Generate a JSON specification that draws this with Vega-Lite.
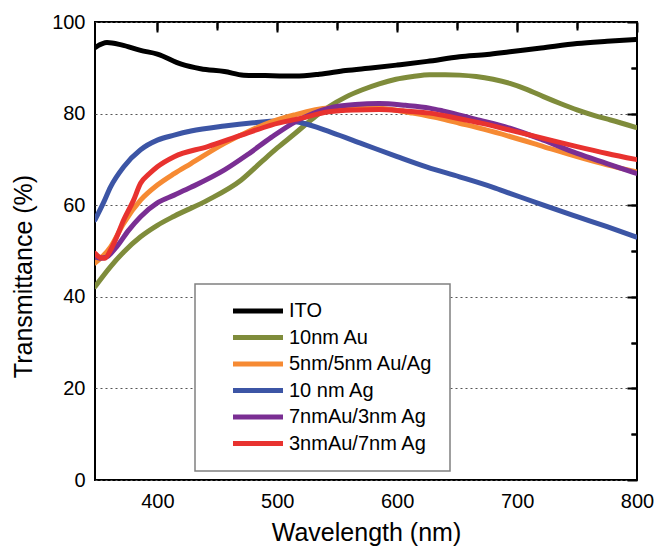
{
  "$schema": "https://vega.github.io/schema/vega-lite/v6.json",
  "width": 542,
  "height": 458,
  "autosize": {"type": "none"},
  "padding": {"left": 95, "top": 22, "right": 18, "bottom": 70},
  "background": "white",
  "config": {
    "view": {"stroke": "black", "strokeWidth": 2},
    "font": "Liberation Sans",
    "axis": {"domain": false, "labelFlush": false, "labelColor": "black", "titleColor": "black", "titleFontWeight": "normal", "tickColor": "black", "tickWidth": 2, "labelFont": "Liberation Sans", "titleFont": "Liberation Sans"}
  },
  "data": {"values": [
    {"s":"ITO","x":348,"y":94.4},{"s":"ITO","x":358,"y":95.5},{"s":"ITO","x":370,"y":95.0},{"s":"ITO","x":386,"y":93.8},{"s":"ITO","x":400,"y":93.0},{"s":"ITO","x":420,"y":90.8},{"s":"ITO","x":436,"y":89.8},{"s":"ITO","x":456,"y":89.2},{"s":"ITO","x":472,"y":88.4},{"s":"ITO","x":490,"y":88.3},{"s":"ITO","x":515,"y":88.2},{"s":"ITO","x":535,"y":88.6},{"s":"ITO","x":557,"y":89.4},{"s":"ITO","x":580,"y":90.0},{"s":"ITO","x":600,"y":90.6},{"s":"ITO","x":625,"y":91.4},{"s":"ITO","x":652,"y":92.4},{"s":"ITO","x":675,"y":92.9},{"s":"ITO","x":694,"y":93.5},{"s":"ITO","x":720,"y":94.3},{"s":"ITO","x":750,"y":95.3},{"s":"ITO","x":775,"y":95.8},{"s":"ITO","x":799,"y":96.2},
    {"s":"10nm Au","x":348,"y":42.2},{"s":"10nm Au","x":361,"y":46.6},{"s":"10nm Au","x":372,"y":49.8},{"s":"10nm Au","x":386,"y":53.1},{"s":"10nm Au","x":400,"y":55.6},{"s":"10nm Au","x":414,"y":57.6},{"s":"10nm Au","x":442,"y":61.1},{"s":"10nm Au","x":470,"y":65.5},{"s":"10nm Au","x":487,"y":69.5},{"s":"10nm Au","x":500,"y":72.5},{"s":"10nm Au","x":515,"y":75.7},{"s":"10nm Au","x":530,"y":79.0},{"s":"10nm Au","x":543,"y":81.5},{"s":"10nm Au","x":557,"y":83.6},{"s":"10nm Au","x":571,"y":85.2},{"s":"10nm Au","x":585,"y":86.5},{"s":"10nm Au","x":599,"y":87.5},{"s":"10nm Au","x":613,"y":88.1},{"s":"10nm Au","x":627,"y":88.5},{"s":"10nm Au","x":640,"y":88.5},{"s":"10nm Au","x":652,"y":88.4},{"s":"10nm Au","x":666,"y":88.1},{"s":"10nm Au","x":680,"y":87.5},{"s":"10nm Au","x":694,"y":86.6},{"s":"10nm Au","x":708,"y":85.3},{"s":"10nm Au","x":722,"y":83.7},{"s":"10nm Au","x":736,"y":82.2},{"s":"10nm Au","x":750,"y":80.8},{"s":"10nm Au","x":764,"y":79.6},{"s":"10nm Au","x":778,"y":78.6},{"s":"10nm Au","x":799,"y":77.0},
    {"s":"10 nm Ag","x":348,"y":56.8},{"s":"10 nm Ag","x":355,"y":60.5},{"s":"10 nm Ag","x":361,"y":64.0},{"s":"10 nm Ag","x":372,"y":68.4},{"s":"10 nm Ag","x":386,"y":72.1},{"s":"10 nm Ag","x":400,"y":74.2},{"s":"10 nm Ag","x":414,"y":75.3},{"s":"10 nm Ag","x":428,"y":76.2},{"s":"10 nm Ag","x":456,"y":77.3},{"s":"10 nm Ag","x":480,"y":78.0},{"s":"10 nm Ag","x":500,"y":78.4},{"s":"10 nm Ag","x":510,"y":78.4},{"s":"10 nm Ag","x":520,"y":78.0},{"s":"10 nm Ag","x":545,"y":75.9},{"s":"10 nm Ag","x":571,"y":73.4},{"s":"10 nm Ag","x":600,"y":70.6},{"s":"10 nm Ag","x":625,"y":68.3},{"s":"10 nm Ag","x":652,"y":66.2},{"s":"10 nm Ag","x":680,"y":63.9},{"s":"10 nm Ag","x":694,"y":62.6},{"s":"10 nm Ag","x":722,"y":60.0},{"s":"10 nm Ag","x":750,"y":57.5},{"s":"10 nm Ag","x":775,"y":55.3},{"s":"10 nm Ag","x":799,"y":53.1},
    {"s":"5nm/5nm Au/Ag","x":348,"y":47.4},{"s":"5nm/5nm Au/Ag","x":355,"y":49.0},{"s":"5nm/5nm Au/Ag","x":361,"y":50.9},{"s":"5nm/5nm Au/Ag","x":372,"y":56.1},{"s":"5nm/5nm Au/Ag","x":386,"y":61.1},{"s":"5nm/5nm Au/Ag","x":400,"y":64.4},{"s":"5nm/5nm Au/Ag","x":414,"y":66.9},{"s":"5nm/5nm Au/Ag","x":428,"y":69.1},{"s":"5nm/5nm Au/Ag","x":456,"y":73.5},{"s":"5nm/5nm Au/Ag","x":475,"y":76.0},{"s":"5nm/5nm Au/Ag","x":495,"y":78.2},{"s":"5nm/5nm Au/Ag","x":514,"y":79.7},{"s":"5nm/5nm Au/Ag","x":543,"y":81.2},{"s":"5nm/5nm Au/Ag","x":571,"y":81.4},{"s":"5nm/5nm Au/Ag","x":592,"y":81.0},{"s":"5nm/5nm Au/Ag","x":613,"y":80.1},{"s":"5nm/5nm Au/Ag","x":638,"y":78.8},{"s":"5nm/5nm Au/Ag","x":652,"y":77.9},{"s":"5nm/5nm Au/Ag","x":672,"y":76.6},{"s":"5nm/5nm Au/Ag","x":694,"y":75.0},{"s":"5nm/5nm Au/Ag","x":722,"y":72.8},{"s":"5nm/5nm Au/Ag","x":750,"y":70.6},{"s":"5nm/5nm Au/Ag","x":775,"y":68.8},{"s":"5nm/5nm Au/Ag","x":799,"y":67.3},
    {"s":"7nmAu/3nm Ag","x":348,"y":48.8},{"s":"7nmAu/3nm Ag","x":352,"y":48.4},{"s":"7nmAu/3nm Ag","x":357,"y":48.6},{"s":"7nmAu/3nm Ag","x":366,"y":50.9},{"s":"7nmAu/3nm Ag","x":376,"y":54.5},{"s":"7nmAu/3nm Ag","x":386,"y":57.5},{"s":"7nmAu/3nm Ag","x":400,"y":60.5},{"s":"7nmAu/3nm Ag","x":414,"y":62.2},{"s":"7nmAu/3nm Ag","x":428,"y":63.9},{"s":"7nmAu/3nm Ag","x":456,"y":67.7},{"s":"7nmAu/3nm Ag","x":475,"y":71.0},{"s":"7nmAu/3nm Ag","x":495,"y":74.8},{"s":"7nmAu/3nm Ag","x":515,"y":78.2},{"s":"7nmAu/3nm Ag","x":543,"y":81.2},{"s":"7nmAu/3nm Ag","x":565,"y":82.0},{"s":"7nmAu/3nm Ag","x":585,"y":82.2},{"s":"7nmAu/3nm Ag","x":607,"y":81.8},{"s":"7nmAu/3nm Ag","x":627,"y":81.2},{"s":"7nmAu/3nm Ag","x":638,"y":80.6},{"s":"7nmAu/3nm Ag","x":665,"y":78.8},{"s":"7nmAu/3nm Ag","x":694,"y":76.8},{"s":"7nmAu/3nm Ag","x":722,"y":74.2},{"s":"7nmAu/3nm Ag","x":750,"y":71.3},{"s":"7nmAu/3nm Ag","x":775,"y":69.1},{"s":"7nmAu/3nm Ag","x":799,"y":67.0},
    {"s":"3nmAu/7nm Ag","x":348,"y":49.5},{"s":"3nmAu/7nm Ag","x":352,"y":48.6},{"s":"3nmAu/7nm Ag","x":356,"y":48.4},{"s":"3nmAu/7nm Ag","x":361,"y":50.2},{"s":"3nmAu/7nm Ag","x":366,"y":53.0},{"s":"3nmAu/7nm Ag","x":372,"y":56.8},{"s":"3nmAu/7nm Ag","x":380,"y":61.0},{"s":"3nmAu/7nm Ag","x":386,"y":64.8},{"s":"3nmAu/7nm Ag","x":393,"y":66.8},{"s":"3nmAu/7nm Ag","x":400,"y":68.4},{"s":"3nmAu/7nm Ag","x":414,"y":70.6},{"s":"3nmAu/7nm Ag","x":442,"y":72.8},{"s":"3nmAu/7nm Ag","x":470,"y":75.3},{"s":"3nmAu/7nm Ag","x":495,"y":77.5},{"s":"3nmAu/7nm Ag","x":520,"y":79.0},{"s":"3nmAu/7nm Ag","x":543,"y":80.4},{"s":"3nmAu/7nm Ag","x":565,"y":80.8},{"s":"3nmAu/7nm Ag","x":585,"y":80.9},{"s":"3nmAu/7nm Ag","x":605,"y":80.6},{"s":"3nmAu/7nm Ag","x":627,"y":80.1},{"s":"3nmAu/7nm Ag","x":650,"y":79.0},{"s":"3nmAu/7nm Ag","x":672,"y":77.8},{"s":"3nmAu/7nm Ag","x":694,"y":76.4},{"s":"3nmAu/7nm Ag","x":722,"y":74.6},{"s":"3nmAu/7nm Ag","x":750,"y":72.8},{"s":"3nmAu/7nm Ag","x":775,"y":71.3},{"s":"3nmAu/7nm Ag","x":799,"y":70.0}
  ]},
  "layer": [
    {
      "mark": {"type": "line", "interpolate": "monotone", "strokeWidth": 5, "strokeCap": "round", "clip": true},
      "encoding": {
        "x": {"field": "x", "type": "quantitative", "scale": {"domain": [348, 800], "nice": false, "zero": false},
          "axis": {"values": [400, 500, 600, 700, 800], "ticks": false, "labelPadding": 11, "labelFontSize": 20, "labelFlush": false, "grid": false,
            "title": "Wavelength (nm)", "titleFontSize": 25, "titleX": 271, "titleY": 60, "titleBaseline": "alphabetic", "titleAlign": "center"}},
        "y": {"field": "y", "type": "quantitative", "scale": {"domain": [0, 100], "nice": false},
          "axis": {"values": [0, 20, 40, 60, 80, 100], "ticks": false, "labelPadding": 10, "labelFontSize": 20, "labelFlush": false,
            "grid": true, "gridDash": [2, 3], "gridColor": "#555", "gridWidth": 1,
            "title": "Transmittance (%)", "titleFontSize": 25, "titleAngle": -90, "titleX": -64, "titleY": 254, "titleBaseline": "alphabetic", "titleAlign": "center"}},
        "color": {"field": "s", "type": "nominal",
          "scale": {"domain": ["ITO", "10nm Au", "5nm/5nm Au/Ag", "10 nm Ag", "7nmAu/3nm Ag", "3nmAu/7nm Ag"],
                    "range": ["#000000", "#7f8c3b", "#f68a33", "#3c55a5", "#7a2e93", "#e8322f"]},
          "legend": {"orient": "none", "legendX": 100, "legendY": 262, "title": null, "padding": 17,
            "fillColor": "white", "strokeColor": "#808080",
            "symbolType": "M-5,0L5,0", "symbolStrokeWidth": 5, "symbolSize": 100, "symbolOffset": 36,
            "labelFontSize": 20, "labelOffset": 21, "labelColor": "black", "labelFont": "Liberation Sans", "rowPadding": 6.5,
            "encode": {"legend": {"update": {"strokeWidth": {"value": 1.5}}}}}}
      }
    },
    {
      "mark": {"type": "point", "opacity": 0},
      "encoding": {
        "x": {"field": "x", "type": "quantitative", "axis": {"values": [400, 500, 600, 700, 800], "labels": false, "title": null, "grid": false, "offset": -10, "tickSize": 10}},
        "y": {"field": "y", "type": "quantitative", "axis": {"values": [0, 20, 40, 60, 80, 100], "labels": false, "title": null, "grid": false, "offset": -10, "tickSize": 10}}
      }
    },
    {
      "mark": {"type": "point", "opacity": 0},
      "encoding": {
        "x": {"field": "x", "type": "quantitative", "axis": {"values": [450, 550, 650, 750], "labels": false, "title": null, "grid": false, "offset": -6, "tickSize": 6}},
        "y": {"field": "y", "type": "quantitative", "axis": {"values": [10, 30, 50, 70, 90], "labels": false, "title": null, "grid": false, "offset": -6, "tickSize": 6}}
      }
    },
    {
      "mark": {"type": "point", "opacity": 0},
      "encoding": {
        "x": {"field": "x", "type": "quantitative", "axis": {"orient": "top", "values": [400, 450, 500, 550, 600, 650, 700, 750], "labels": false, "title": null, "grid": false, "offset": -8, "tickSize": 8}},
        "y": {"field": "y", "type": "quantitative", "axis": {"orient": "right", "values": [10, 20, 30, 40, 50, 60, 70, 80, 90], "labels": false, "title": null, "grid": false, "offset": -6, "tickSize": 6}}
      }
    }
  ],
  "resolve": {"axis": {"x": "independent", "y": "independent"}}
}
